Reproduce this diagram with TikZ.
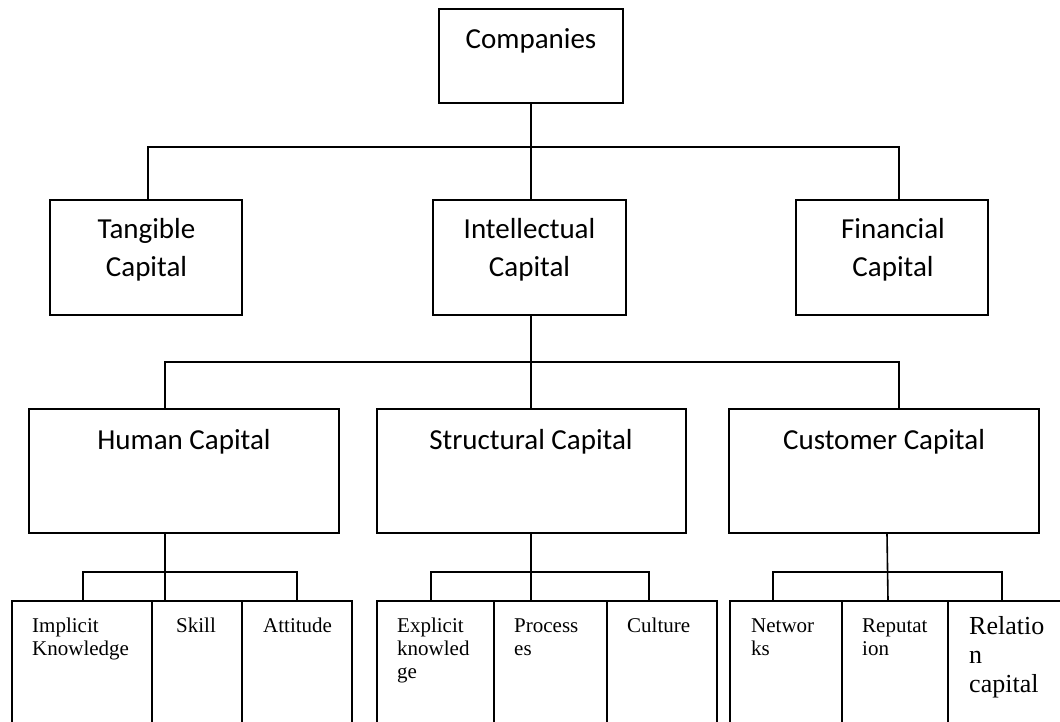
\documentclass[tikz,border=0pt]{standalone}
\usepackage{fontspec}
\setmainfont{Liberation Serif}
\newfontfamily\cali{Carlito}
\begin{document}
\begin{tikzpicture}[x=1pt,y=-1pt,
  box/.style={draw, line width=1.6pt, inner sep=0pt},
  conn/.style={line width=1.6pt},
  bigtxt/.style={inner sep=0pt, anchor=base, font=\cali\fontsize{29}{37}\selectfont},
  smalltxt/.style={inner sep=0pt, anchor=base west, font=\fontsize{21}{23}\selectfont},
  midtxt/.style={inner sep=0pt, anchor=base west, font=\fontsize{26}{29}\selectfont}]
\useasboundingbox (0,0) rectangle (1060,722);
\fill[white] (0,0) rectangle (1060,722);
\clip (0,0) rectangle (1060,722);
% level 0
\node[box, minimum width=184pt, minimum height=94pt] (comp) at (531,56) {};
% level 1
\node[box, minimum width=192pt, minimum height=115pt] (tang) at (146,257.5) {};
\node[box, minimum width=193pt, minimum height=115pt] (intel) at (529.5,257.5) {};
\node[box, minimum width=192pt, minimum height=115pt] (fin) at (892,257.5) {};
% level 2
\node[box, minimum width=310pt, minimum height=124pt] (human) at (184,471) {};
\node[box, minimum width=309pt, minimum height=124pt] (struct) at (531.5,471) {};
\node[box, minimum width=310pt, minimum height=124pt] (cust) at (884,471) {};
% level 3
\node[box, minimum width=140pt, minimum height=159pt] (b11) at (82,680.5) {};
\node[box, minimum width=90pt, minimum height=159pt] (b12) at (197,680.5) {};
\node[box, minimum width=110pt, minimum height=159pt] (b13) at (297,680.5) {};
\node[box, minimum width=117pt, minimum height=159pt] (b21) at (435.5,680.5) {};
\node[box, minimum width=113pt, minimum height=159pt] (b22) at (550.5,680.5) {};
\node[box, minimum width=110pt, minimum height=159pt] (b23) at (662,680.5) {};
\node[box, minimum width=112pt, minimum height=159pt] (b31) at (786,680.5) {};
\node[box, minimum width=106pt, minimum height=159pt] (b32) at (895,680.5) {};
\node[box, minimum width=127pt, minimum height=159pt] (b33) at (1011.5,680.5) {};
% texts
\node[bigtxt] (compT) at (531,49) {Companies};
\node[bigtxt] (tangT) at (146.5,239) {\begin{tabular}[t]{@{}c@{}}Tangible\\Capital\end{tabular}};
\node[bigtxt] (intelT) at (529.5,239) {\begin{tabular}[t]{@{}c@{}}Intellectual\\Capital\end{tabular}};
\node[bigtxt] (finT) at (893,239) {\begin{tabular}[t]{@{}c@{}}Financial\\Capital\end{tabular}};
\node[bigtxt] (humanT) at (184,449) {Human Capital};
\node[bigtxt] (structT) at (531,449) {Structural Capital};
\node[bigtxt] (custT) at (884,449) {Customer Capital};
\node[smalltxt] (b11T) at (32,632) {\begin{tabular}[t]{@{}l@{}}Implicit\\Knowledge\end{tabular}};
\node[smalltxt] (b12T) at (176,632) {Skill};
\node[smalltxt] (b13T) at (263,632) {Attitude};
\node[smalltxt] (b21T) at (397,632) {\begin{tabular}[t]{@{}l@{}}Explicit\\knowled\\ge\end{tabular}};
\node[smalltxt] (b22T) at (514,632) {\begin{tabular}[t]{@{}l@{}}Process\\es\end{tabular}};
\node[smalltxt] (b23T) at (627,632) {Culture};
\node[smalltxt] (b31T) at (751,632) {\begin{tabular}[t]{@{}l@{}}Networ\\ks\end{tabular}};
\node[smalltxt] (b32T) at (862,632) {\begin{tabular}[t]{@{}l@{}}Reputat\\ion\end{tabular}};
\node[midtxt] (b33T) at (969,634) {\begin{tabular}[t]{@{}l@{}}Relatio\\n\\capital\end{tabular}};
% connectors level 0-1
\draw[conn] (comp.south) -- ([xshift=1.5pt]intel.north);
\draw[conn] ([xshift=2pt]tang.north) -- ++(0,-52) -| ([xshift=7pt]fin.north);
% level 1-2
\draw[conn] ([xshift=1.5pt]intel.south) -- ([xshift=-0.5pt]struct.north);
\draw[conn] ([xshift=-19pt]human.north) -- ++(0,-46) -| ([xshift=15pt]cust.north);
% level 2-3
\draw[conn] ([xshift=-19pt]human.south) -- ([xshift=-32pt]b12.north);
\draw[conn] ([xshift=1pt]b11.north) -- ++(0,-28) -| (b13.north);
\draw[conn] ([xshift=-0.5pt]struct.south) -- ([xshift=-19.5pt]b22.north);
\draw[conn] ([xshift=-4.5pt]b21.north) -- ++(0,-28) -| ([xshift=-13pt]b23.north);
\draw[conn] ([xshift=3pt]cust.south) -- ([xshift=-7pt]b32.north);
\draw[conn] ([xshift=-13pt]b31.north) -- ++(0,-28) -| ([xshift=-9.5pt]b33.north);
\end{tikzpicture}
\end{document}
